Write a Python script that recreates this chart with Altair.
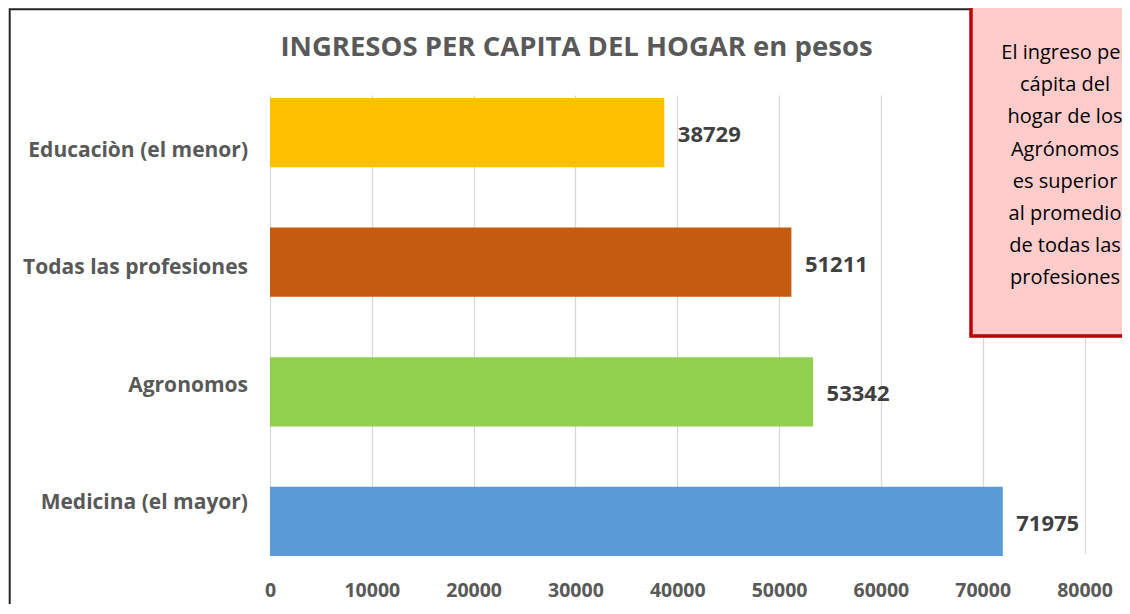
import altair as alt
import pandas as pd

categories = ["Educaciòn (el menor)", "Todas las profesiones", "Agronomos", "Medicina (el mayor)"]
values = [38729, 51211, 53342, 71975]
colors = ["#FFC000", "#C55A11", "#92D050", "#5B9BD5"]
x_ticks = [0, 10000, 20000, 30000, 40000, 50000, 60000, 70000, 80000]
title_text = "INGRESOS PER CAPITA DEL HOGAR en pesos"
note_lines = ["El ingreso per", "cápita del", "hogar de los", "Agrónomos", "es superior",
              "al promedio", "de todas las", "profesiones"]

df = pd.DataFrame({"cat": categories, "val": values})
one = pd.DataFrame({"a": [0]})

FONT = "Open Sans"
W, H = 814.5, 465

xscale = alt.Scale(domain=[0, 80000], nice=False, zero=True)
yband = alt.Scale(type="band", domain=categories, range=[5, 463], paddingInner=0.466, paddingOuter=0)

frame = alt.Chart(one).mark_rect(fill="white", fillOpacity=0, stroke="#262626", strokeWidth=2).encode(
    x=alt.value(-260.3), x2=alt.value(1000), y=alt.value(-83.8), y2=alt.value(700)
)

bars = alt.Chart(df).mark_bar().encode(
    x=alt.X("val:Q", scale=xscale, title=None,
            axis=alt.Axis(values=x_ticks, grid=True, gridColor="#D9D9D9", gridWidth=1.3,
                          domain=False, ticks=False, tickSize=0, labelPadding=38.5,
                          labelBaseline="alphabetic", labelFont=FONT, labelFontSize=19.5,
                          labelFontWeight="bold", labelColor="#595959", format="d",
                          labelFlush=False, labelOverlap=False)),
    y=alt.Y("cat:N", scale=yband, axis=None, sort=categories),
    color=alt.Color("cat:N", scale=alt.Scale(domain=categories, range=colors), legend=None),
)

data_labels = alt.Chart(df).mark_text(align="left", baseline="alphabetic", dx=13.5, dy=9.5,
                                      font=FONT, fontSize=22, fontWeight="bold",
                                      color="#404040").encode(
    x=alt.X("val:Q", scale=xscale),
    y=alt.Y("cat:N", scale=yband, axis=None, sort=categories),
    text=alt.Text("val:Q", format="d"),
)

ylabels = alt.Chart(df).mark_text(align="right", baseline="alphabetic", font=FONT, fontSize=21,
                                  fontWeight="bold", color="#595959").encode(
    x=alt.value(-22),
    y=alt.Y("cat:N", scale=alt.Scale(type="point", domain=categories, range=[63.7, 416],
                                     padding=0), axis=None, sort=categories),
    text="cat:N",
)

title = alt.Chart(one).mark_text(align="center", baseline="alphabetic", font=FONT, fontSize=27.5,
                                 fontWeight="bold", color="#595959", text=title_text).encode(
    x=alt.value(306.5), y=alt.value(-37)
)

note_box = alt.Chart(one).mark_rect(fill="#FFCCCC", stroke="#C00000", strokeWidth=3.5).encode(
    x=alt.value(701), x2=alt.value(1000), y=alt.value(-150), y2=alt.value(243)
)

note_text = alt.Chart(one).mark_text(align="center", baseline="alphabetic", font=FONT, fontSize=20,
                                     color="#000000", lineHeight=32.1, text=note_lines).encode(
    x=alt.value(795), y=alt.value(-33.7)
)

chart = alt.layer(frame, bars, data_labels, ylabels, title, note_box, note_text).resolve_scale(
    y="independent"
).properties(
    width=W, height=H,
    autosize=alt.AutoSizeParams(type="none"),
    padding={"left": 262, "top": 85, "right": 37.5, "bottom": 46},
    background="white",
).configure_view(stroke=None)

chart.save("out.html", embed_options={"renderer": "svg", "actions": False})
